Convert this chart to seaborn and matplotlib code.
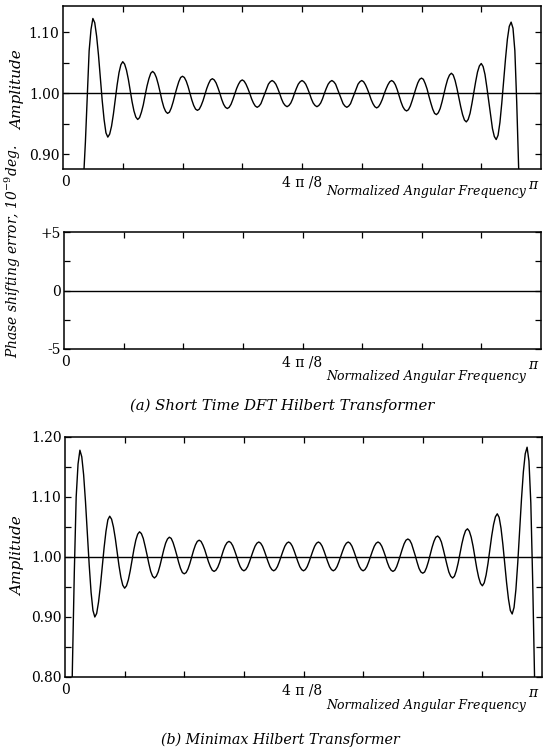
import numpy as np
import pandas as pd
import matplotlib
matplotlib.use("Agg")
import matplotlib.pyplot as plt
import seaborn as sns

# frequency grid in units of pi (0 .. pi, step pi/256)
freq = np.linspace(0, 1, 257)

# (a) short time DFT hilbert transformer, amplitude
amp_stdft = [
    0.000, 0.100, 0.200, 0.300, 0.400, 0.475, 0.550, 0.615, 0.680,
    0.740, 0.800, 0.860, 0.920, 0.995, 1.070, 1.105, 1.123,
    1.116, 1.094, 1.063, 1.026, 0.988, 0.957, 0.935, 0.928,
    0.933, 0.946, 0.966, 0.990, 1.014, 1.034, 1.047, 1.052,
    1.048, 1.038, 1.023, 1.005, 0.986, 0.971, 0.961, 0.957,
    0.960, 0.969, 0.981, 0.997, 1.012, 1.024, 1.033, 1.036,
    1.033, 1.026, 1.015, 1.002, 0.988, 0.977, 0.970, 0.967,
    0.969, 0.976, 0.986, 0.998, 1.009, 1.019, 1.026, 1.028,
    1.026, 1.020, 1.011, 1.000, 0.989, 0.980, 0.974, 0.972,
    0.974, 0.980, 0.988, 0.998, 1.008, 1.016, 1.022, 1.024,
    1.022, 1.017, 1.009, 1.000, 0.990, 0.982, 0.977, 0.975,
    0.977, 0.982, 0.990, 0.999, 1.008, 1.015, 1.020, 1.022,
    1.020, 1.015, 1.008, 1.000, 0.991, 0.984, 0.979, 0.977,
    0.979, 0.983, 0.991, 0.999, 1.007, 1.015, 1.019, 1.021,
    1.019, 1.015, 1.008, 1.000, 0.991, 0.984, 0.980, 0.978,
    0.980, 0.984, 0.991, 1.000, 1.008, 1.015, 1.019, 1.021,
    1.019, 1.015, 1.008, 1.000, 0.991, 0.984, 0.980, 0.978,
    0.980, 0.984, 0.991, 1.000, 1.008, 1.015, 1.019, 1.021,
    1.019, 1.015, 1.007, 0.999, 0.991, 0.983, 0.979, 0.977,
    0.979, 0.983, 0.991, 0.999, 1.007, 1.015, 1.019, 1.021,
    1.019, 1.014, 1.007, 0.999, 0.990, 0.983, 0.978, 0.976,
    0.978, 0.983, 0.990, 0.999, 1.007, 1.014, 1.019, 1.021,
    1.019, 1.014, 1.006, 0.996, 0.986, 0.978, 0.973, 0.971,
    0.973, 0.979, 0.988, 0.998, 1.008, 1.017, 1.023, 1.025,
    1.023, 1.016, 1.007, 0.995, 0.984, 0.974, 0.967, 0.965,
    0.968, 0.975, 0.986, 0.999, 1.012, 1.023, 1.030, 1.033,
    1.030, 1.021, 1.008, 0.993, 0.978, 0.965, 0.956, 0.953,
    0.957, 0.967, 0.983, 1.001, 1.019, 1.035, 1.045, 1.049,
    1.044, 1.031, 1.010, 0.987, 0.963, 0.942, 0.929, 0.924,
    0.931, 0.952, 0.984, 1.021, 1.057, 1.089, 1.110, 1.117,
    1.107, 1.070, 0.985, 0.880, 0.800, 0.720, 0.650, 0.580,
    0.510, 0.440, 0.370, 0.300, 0.225, 0.150, 0.075, 0.000,
]

# phase shifting error (x 1e-9 deg) - flat zero
phase_freq = [0.0, 1.0]
phase_err = [0.0, 0.0]

# (b) minimax hilbert transformer
amp_minimax = [
    0.000, 0.220, 0.450, 0.650, 0.820, 0.975, 1.100, 1.155, 1.178,
    1.167, 1.137, 1.092, 1.039, 0.986, 0.941, 0.911, 0.900,
    0.906, 0.925, 0.952, 0.984, 1.016, 1.043, 1.062, 1.068,
    1.063, 1.050, 1.031, 1.008, 0.985, 0.966, 0.953, 0.948,
    0.952, 0.962, 0.977, 0.995, 1.013, 1.028, 1.038, 1.042,
    1.039, 1.031, 1.018, 1.004, 0.989, 0.976, 0.968, 0.965,
    0.968, 0.975, 0.986, 0.999, 1.012, 1.023, 1.030, 1.033,
    1.031, 1.024, 1.014, 1.003, 0.991, 0.981, 0.974, 0.972,
    0.974, 0.980, 0.989, 1.000, 1.011, 1.020, 1.026, 1.028,
    1.026, 1.020, 1.012, 1.002, 0.992, 0.984, 0.978, 0.976,
    0.978, 0.983, 0.991, 1.001, 1.011, 1.019, 1.024, 1.026,
    1.024, 1.019, 1.011, 1.002, 0.992, 0.984, 0.979, 0.977,
    0.979, 0.984, 0.992, 1.001, 1.010, 1.018, 1.023, 1.025,
    1.023, 1.018, 1.010, 1.001, 0.992, 0.984, 0.979, 0.977,
    0.979, 0.984, 0.992, 1.001, 1.010, 1.018, 1.023, 1.025,
    1.023, 1.018, 1.010, 1.001, 0.992, 0.984, 0.979, 0.977,
    0.979, 0.984, 0.992, 1.001, 1.010, 1.018, 1.023, 1.025,
    1.023, 1.018, 1.010, 1.001, 0.992, 0.984, 0.979, 0.977,
    0.979, 0.984, 0.992, 1.001, 1.010, 1.018, 1.023, 1.025,
    1.023, 1.018, 1.010, 1.001, 0.992, 0.984, 0.979, 0.977,
    0.979, 0.984, 0.992, 1.001, 1.010, 1.018, 1.023, 1.025,
    1.023, 1.018, 1.010, 1.001, 0.991, 0.983, 0.978, 0.976,
    0.978, 0.984, 0.993, 1.003, 1.013, 1.022, 1.028, 1.030,
    1.028, 1.022, 1.012, 1.002, 0.991, 0.981, 0.975, 0.973,
    0.975, 0.982, 0.992, 1.004, 1.016, 1.026, 1.033, 1.035,
    1.032, 1.025, 1.013, 1.000, 0.987, 0.975, 0.968, 0.965,
    0.968, 0.977, 0.990, 1.006, 1.022, 1.035, 1.044, 1.047,
    1.043, 1.033, 1.018, 1.000, 0.981, 0.966, 0.956, 0.952,
    0.957, 0.970, 0.989, 1.012, 1.035, 1.054, 1.067, 1.072,
    1.066, 1.048, 1.021, 0.989, 0.957, 0.930, 0.911, 0.905,
    0.916, 0.946, 0.991, 1.044, 1.097, 1.142, 1.172, 1.183,
    1.160, 1.090, 0.960, 0.800, 0.620, 0.420, 0.210, 0.000,
]

amp_ticks_a = [0.90, 1.00, 1.10]
amp_ticks_b = [0.80, 0.90, 1.00, 1.10, 1.20]
phase_ticks = [-5, 0, 5]
phase_labels = ["-5", "0", "+5"]

sns.set_theme(style="ticks")
plt.rcParams["font.family"] = ["DejaVu Serif"]
plt.rcParams["mathtext.fontset"] = "dejavuserif"

W, H = 550, 747
fig = plt.figure(figsize=(W / 100, H / 100), dpi=100)


def add_ax(left, top, right, bottom):
    return fig.add_axes([left / W, 1 - bottom / H, (right - left) / W, (bottom - top) / H])


def ftext(x, y, s, **kw):
    kw.setdefault("ha", "center")
    kw.setdefault("va", "center")
    fig.text(x / W, 1 - y / H, s, color="black", **kw)


def style(ax):
    for sp in ax.spines.values():
        sp.set_visible(True)
        sp.set_linewidth(1.1)
        sp.set_color("black")
    ax.set_xlim(0, 1)
    ax.set_xticks([k / 8 for k in range(1, 8)])
    ax.tick_params(which="both", direction="in", top=True, right=True,
                   length=4.5, width=0.9, color="black", labelbottom=False,
                   labelsize=10, labelcolor="black", pad=2.5)
    ax.set_xlabel("")
    ax.set_ylabel("")
    ax.grid(False)


lw = 1.0

# panel 1
ax1 = add_ax(63, 6, 541, 169)
df_a = pd.DataFrame({"freq": freq, "amp": amp_stdft})
sns.lineplot(data=df_a, x="freq", y="amp", ax=ax1, color="black", lw=lw)
ax1.axhline(1.0, color="black", lw=lw)
ax1.set_ylim(0.8756, 1.1435)
ax1.set_yticks(amp_ticks_a, ["%.2f" % v for v in amp_ticks_a])
ax1.set_yticks([0.95, 1.05], minor=True)
style(ax1)

# panel 2
ax2 = add_ax(64, 232, 541, 349)
df_p = pd.DataFrame({"freq": phase_freq, "err": phase_err})
sns.lineplot(data=df_p, x="freq", y="err", ax=ax2, color="black", lw=lw)
ax2.set_ylim(-5, 5)
ax2.set_yticks(phase_ticks, phase_labels)
ax2.set_yticks([-2.5, 2.5], minor=True)
style(ax2)

# panel 3
ax3 = add_ax(65, 437, 542, 677)
df_b = pd.DataFrame({"freq": freq, "amp": amp_minimax})
sns.lineplot(data=df_b, x="freq", y="amp", ax=ax3, color="black", lw=lw)
ax3.axhline(1.0, color="black", lw=lw)
ax3.set_ylim(0.80, 1.20)
ax3.set_yticks(amp_ticks_b, ["%.2f" % v for v in amp_ticks_b])
ax3.set_yticks([0.85, 0.95, 1.05, 1.15], minor=True)
style(ax3)

# x labels (placed by hand like the original figure)
for spine_y, lab_off in [(169, 23), (349, 28), (677, 29)]:
    ftext(66, spine_y + 13, "0", fontsize=10)
    ftext(302, spine_y + 13, "4 π /8", fontsize=10)
    ftext(533, spine_y + 16, "π", fontsize=10, style="italic")
    ftext(426, spine_y + lab_off, "Normalized Angular Frequency", fontsize=9, style="italic")

ftext(18, 90, "Amplitude", fontsize=11, style="italic", rotation=90)
ftext(18, 556, "Amplitude", fontsize=11, style="italic", rotation=90)
ftext(13, 251, "Phase shifting error, 10$^{-9}$deg.", fontsize=10, style="italic", rotation=90)

ftext(282, 406, "(a) Short Time DFT Hilbert Transformer", fontsize=10.7, style="italic")
ftext(280, 740, "(b) Minimax Hilbert Transformer", fontsize=10.3, style="italic")

fig.savefig("out.png", dpi=100, facecolor="white")
